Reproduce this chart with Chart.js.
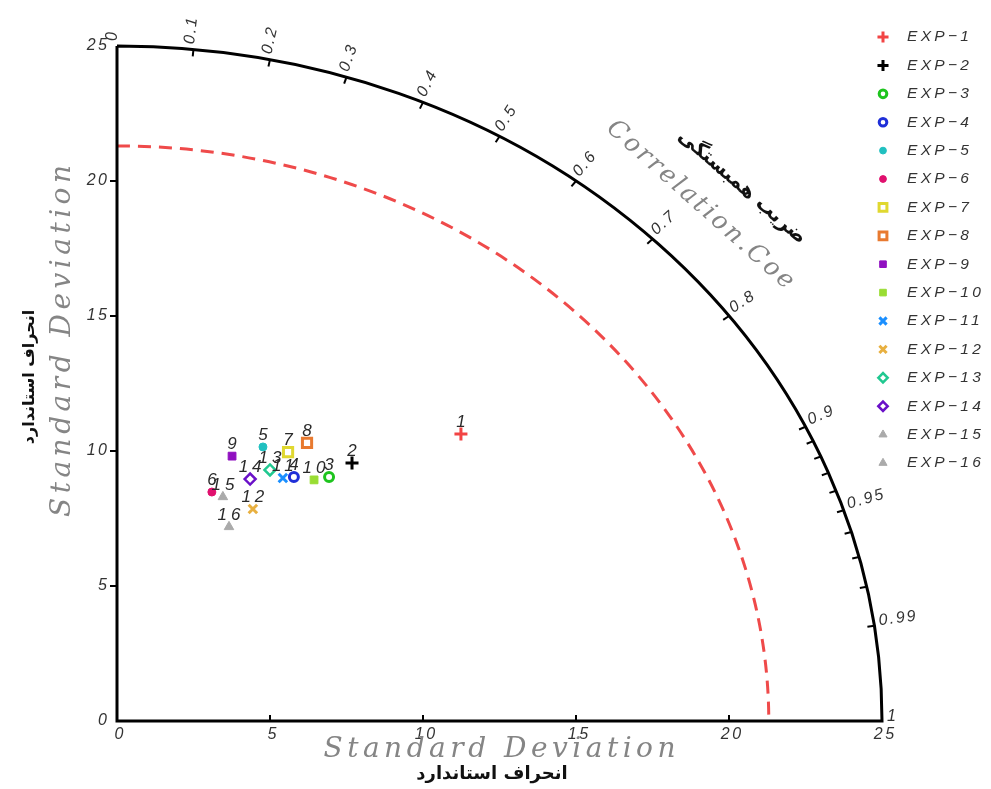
<!DOCTYPE html>
<html>
<head>
<meta charset="utf-8">
<script src="https://cdn.jsdelivr.net/npm/chart.js@4.4.1/dist/chart.umd.min.js"></script>
<style>
    html, body { margin: 0; padding: 0; background: #fff; }
    #wrap { width: 991px; height: 789px; }
</style>
</head>
<body>
<div id="wrap"><canvas id="taylorChart"></canvas></div>
<script>
const categories = ['EXP-1', 'EXP-2', 'EXP-3', 'EXP-4', 'EXP-5', 'EXP-6', 'EXP-7', 'EXP-8',
    'EXP-9', 'EXP-10', 'EXP-11', 'EXP-12', 'EXP-13', 'EXP-14', 'EXP-15', 'EXP-16'];
const sdX = [11.24, 7.68, 6.93, 5.78, 4.77, 3.10, 5.59, 6.21, 3.76, 6.44, 5.42, 4.44, 5.00, 4.35, 3.46, 3.66];
const sdY = [10.63, 9.56, 9.04, 9.04, 10.15, 8.48, 9.96, 10.30, 9.81, 8.93, 9.00, 7.85, 9.30, 8.96, 8.30, 7.19];
const pointTags = ['1', '2', '3', '4', '5', '6', '7', '8', '9', '10', '11', '12', '13', '14', '15', '16'];

const axisTicks = [0, 5, 10, 15, 20, 25];
const corrTicks = [0, 0.1, 0.2, 0.3, 0.4, 0.5, 0.6, 0.7, 0.8, 0.9, 0.95, 0.99, 1];
const corrMinor = [0.91, 0.92, 0.93, 0.94, 0.96, 0.97, 0.98];
const maxStd = 25;
const refStd = 21.3;

// marker styles
const colors = ['#f24444', '#000000', '#1ec41e', '#1f2fd8', '#20c0c0', '#e0106e', '#e0d830', '#e87a30',
    '#9010c0', '#99dd33', '#1a8fff', '#e8b040', '#20c890', '#6a10c8', '#aaaaaa', '#aaaaaa'];
const markerStyles = ['cross', 'cross', 'circle', 'circle', 'circle', 'circle', 'rect', 'rect',
    'rect', 'rect', 'crossRot', 'crossRot', 'rectRot', 'rectRot', 'triangle', 'triangle'];
const markerFilled = [true, true, false, false, true, true, false, false,
    true, true, true, true, false, false, true, true];
const markerRadius = [6.5, 6.5, 4.5, 4.5, 4, 4, 6.5, 6.5, 5.5, 5.5, 6, 6, 5.5, 5.5, 5.5, 5.5];
const markerBorder = [3, 3, 3, 3, 1, 1, 3, 3, 1, 1, 3, 3, 2.5, 2.5, 1, 1];

const tickFont = 'italic 16px "Liberation Sans", Arial, sans-serif';
const titleFont = 'italic 28px "DejaVu Serif", serif';
const faFont = '"DejaVu Sans", sans-serif';

function spacedText(ctx, text, x, y, gap, align) {
    ctx.letterSpacing = gap + 'px';
    const w = ctx.measureText(text).width - gap;
    let x0 = x;
    if (align === 'center') x0 = x - w / 2;
    else if (align === 'right') x0 = x - w;
    ctx.textAlign = 'left';
    ctx.fillText(text, x0, y);
    ctx.letterSpacing = '0px';
}

function fitText(ctx, text, x, y, width) {
    ctx.letterSpacing = '0px';
    const w0 = ctx.measureText(text).width;
    const gap = Math.max(0, (width - w0) / (text.length - 1));
    spacedText(ctx, text, x, y, gap, 'center');
}

const taylorPlugin = {
    id: 'taylor',
    beforeDatasetsDraw(chart) {
        const ctx = chart.ctx;
        const xs = chart.scales.x;
        const ys = chart.scales.y;
        const cx = xs.getPixelForValue(0);
        const cy = ys.getPixelForValue(0);
        const rx = v => xs.getPixelForValue(v) - cx;
        const ry = v => cy - ys.getPixelForValue(v);

        ctx.save();

        // reference std circle
        ctx.strokeStyle = '#ef4a4a';
        ctx.lineWidth = 3;
        ctx.setLineDash([13, 8]);
        ctx.beginPath();
        ctx.ellipse(cx, cy, rx(refStd), ry(refStd), 0, -Math.PI / 2, 0);
        ctx.stroke();
        ctx.setLineDash([]);

        // frame
        ctx.strokeStyle = '#000';
        ctx.lineWidth = 3;
        ctx.lineJoin = 'miter';
        ctx.beginPath();
        ctx.moveTo(cx, cy - ry(maxStd));
        ctx.lineTo(cx, cy);
        ctx.lineTo(cx + rx(maxStd), cy);
        ctx.ellipse(cx, cy, rx(maxStd), ry(maxStd), 0, 0, -Math.PI / 2, true);
        ctx.stroke();

        // x ticks (inward), y ticks (outward)
        ctx.lineWidth = 2;
        ctx.fillStyle = '#333';
        ctx.font = tickFont;
        axisTicks.forEach(v => {
            const px = xs.getPixelForValue(v);
            const py = ys.getPixelForValue(v);
            if (v > 0 && v < maxStd) {
                ctx.beginPath();
                ctx.moveTo(px, cy);
                ctx.lineTo(px, cy - 6);
                ctx.moveTo(cx - 7, py);
                ctx.lineTo(cx, py);
                ctx.stroke();
            }
            ctx.textBaseline = 'top';
            spacedText(ctx, String(v), px + 2, cy + 6, 2.5, 'center');
            ctx.textBaseline = 'middle';
            spacedText(ctx, String(v), cx - 10, py, 2.5, 'right');
        });

        // correlation ticks + labels
        const R = maxStd;
        const arcPoint = r => {
            const px = cx + rx(R) * r;
            const py = cy - ry(R) * Math.sqrt(1 - r * r);
            const len = Math.hypot(px - cx, py - cy);
            return { px, py, dx: (px - cx) / len, dy: (py - cy) / len };
        };
        ctx.lineWidth = 2;
        corrTicks.concat(corrMinor).forEach(r => {
            if (r === 0 || r === 1) return;
            const p = arcPoint(r);
            ctx.beginPath();
            ctx.moveTo(p.px, p.py);
            ctx.lineTo(p.px - p.dx * 7, p.py - p.dy * 7);
            ctx.stroke();
        });
        ctx.fillStyle = '#333';
        ctx.font = 'italic 16px "Liberation Sans", Arial, sans-serif';
        ctx.textBaseline = 'alphabetic';
        corrTicks.forEach(r => {
            const p = arcPoint(r);
            ctx.save();
            ctx.translate(p.px + p.dx * 5, p.py + p.dy * 5);
            ctx.rotate(Math.atan2(p.dy, p.dx));
            spacedText(ctx, String(r), 0, 0, 2, 'left');
            ctx.restore();
        });

        // titles
        ctx.fillStyle = '#858585';
        ctx.font = titleFont;
        ctx.textBaseline = 'middle';
        fitText(ctx, 'Standard Deviation', (cx + cx + rx(R)) / 2, 750, 352);
        ctx.save();
        ctx.translate(63, 341);
        ctx.rotate(-Math.PI / 2);
        fitText(ctx, 'Standard Deviation', 0, 0, 352);
        ctx.restore();

        ctx.save();
        ctx.translate(700, 205);
        ctx.rotate(41.6 * Math.PI / 180);
        ctx.font = 'italic 25px "DejaVu Serif", serif';
        fitText(ctx, 'Correlation.Coe', 0, 0, 241);
        ctx.restore();

        ctx.fillStyle = '#111';
        ctx.textAlign = 'center';
        ctx.font = 'bold 18px ' + faFont;
        ctx.fillText('انحراف استاندارد', 492, 774);
        ctx.save();
        ctx.translate(30, 377);
        ctx.rotate(-Math.PI / 2);
        ctx.font = 'bold 16px ' + faFont;
        ctx.fillText('انحراف استاندارد', 0, 0);
        ctx.restore();
        ctx.save();
        ctx.translate(742, 187);
        ctx.rotate(41 * Math.PI / 180);
        ctx.font = 'bold 20px ' + faFont;
        ctx.fillText('ضریب همبستگی', 0, 0);
        ctx.restore();

        ctx.restore();
    },
    afterDatasetsDraw(chart) {
        const ctx = chart.ctx;
        ctx.save();

        // point tags
        ctx.fillStyle = '#2a2a2a';
        ctx.font = 'italic 17px "Liberation Sans", Arial, sans-serif';
        ctx.textBaseline = 'alphabetic';
        pointTags.forEach((tag, i) => {
            const el = chart.getDatasetMeta(i).data[0];
            if (!el) return;
            spacedText(ctx, tag, el.x, el.y - 7, 4, 'center');
        });

        // legend
        const lx = 883;
        categories.forEach((name, i) => {
            const ly = 37 + i * 28.4;
            ctx.fillStyle = markerFilled[i] ? colors[i] : '#fff';
            ctx.strokeStyle = colors[i];
            ctx.lineWidth = markerBorder[i];
            Chart.helpers.drawPoint(ctx, {
                pointStyle: markerStyles[i],
                radius: markerRadius[i] * 0.85,
                borderWidth: markerBorder[i],
                rotation: 0
            }, lx, ly);
            ctx.fillStyle = '#333';
            ctx.font = 'italic 15.5px "Liberation Sans", Arial, sans-serif';
            ctx.textBaseline = 'middle';
            spacedText(ctx, name.replace('-', '\u2212'), 907, ly, 3.3, 'left');
        });

        ctx.restore();
    }
};

document.addEventListener('DOMContentLoaded', function () {
    const datasets = categories.map((name, i) => ({
        label: name,
        data: [{ x: sdX[i], y: sdY[i] }],
        pointStyle: markerStyles[i],
        pointRadius: markerRadius[i],
        pointBorderWidth: markerBorder[i],
        pointBorderColor: colors[i],
        pointBackgroundColor: markerFilled[i] ? colors[i] : '#fff'
    }));

    new Chart(document.getElementById('taylorChart'), {
        type: 'scatter',
        data: { datasets },
        options: {
            responsive: true,
            maintainAspectRatio: false,
            animation: false,
            layout: { padding: { left: 117, right: 109, top: 46, bottom: 68 } },
            scales: {
                x: { type: 'linear', min: 0, max: maxStd, display: false },
                y: { type: 'linear', min: 0, max: maxStd, display: false }
            },
            plugins: {
                legend: { display: false },
                tooltip: { enabled: false }
            }
        },
        plugins: [taylorPlugin]
    });
});
</script>
</body>
</html>
